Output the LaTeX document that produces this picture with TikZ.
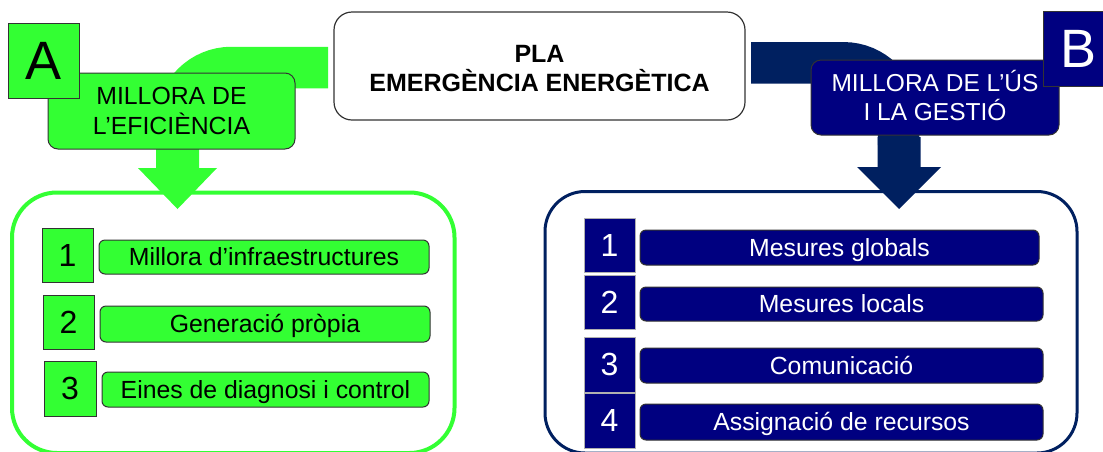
\documentclass[tikz,border=0pt]{standalone}
\usepackage{fontspec}
\setmainfont{Liberation Sans}
\definecolor{gA}{HTML}{33FF33}
\definecolor{navyL}{HTML}{000080}
\definecolor{navyD}{HTML}{002060}
\definecolor{edgeD}{HTML}{333333}
\definecolor{edgeL}{HTML}{B0B0B0}
\begin{document}
\begin{tikzpicture}[x=1pt,y=-1pt,
  every node/.style={inner sep=0pt, outer sep=0pt, font=\fontsize{24.8}{30}\selectfont},
  frameA/.style={draw=gA, line width=4pt, rounded corners=45pt},
  frameB/.style={draw=navyD, line width=3pt, rounded corners=40pt},
  bandline/.style={line width=41.5pt, rounded corners=55pt},
  titlebox/.style={draw=edgeD, line width=1.2pt, fill=white, rounded corners=18pt},
  titletext/.style={align=center, font=\bfseries\fontsize{25}{29}\selectfont},
  headA/.style={fill=gA, draw=edgeD, line width=1pt, rounded corners=10pt, align=center},
  headB/.style={fill=navyL, draw=edgeD, line width=1pt, rounded corners=10pt, align=center, text=white, font=\fontsize{24.5}{29}\selectfont},
  letterA/.style={fill=gA, draw=edgeD, line width=1pt, font=\fontsize{54}{60}\selectfont, text height=38.7pt, text depth=0pt},
  letterB/.style={fill=navyL, draw=edgeD, line width=1pt, text=white, font=\fontsize{54}{60}\selectfont, text height=38.7pt, text depth=0pt},
  numA/.style={fill=gA, draw=edgeD, line width=1pt, font=\fontsize{32}{36}\selectfont, text height=22.9pt, text depth=0pt},
  numB/.style={fill=navyL, draw=edgeL, line width=1pt, text=white, font=\fontsize{32}{36}\selectfont, text height=22.9pt, text depth=0pt},
  barA/.style={fill=gA, draw=edgeD, line width=1pt, rounded corners=6pt, text height=17.7pt, text depth=0pt},
  barB/.style={fill=navyL, draw=edgeD, line width=1pt, rounded corners=6pt, text=white, text height=17.7pt, text depth=0pt},
]
\useasboundingbox (0,0) rectangle (1103,451);
\clip (0,0) rectangle (1103,451);
\fill[white] (0,0) rectangle (1103,451);

% outer frames
\node[frameA, minimum width=442.5pt, minimum height=260.5pt] (frA) at (233.25,322.75) {};
\node[frameB, minimum width=532pt, minimum height=261.5pt] (frB) at (811,322.25) {};

% title box
\node[titlebox, minimum width=411pt, minimum height=108pt] (pla) at (539.5,66) {};
\node[titletext] (platext) at (539.5,68.5) {PLA\\EMERGÈNCIA ENERGÈTICA};

% bent bands
\coordinate (bandAstart) at ([shift={(-6,1.5)}]pla.west);
\coordinate (bandAend) at (176.5,145);
\draw[bandline, draw=gA] (bandAstart) -| (bandAend);
\coordinate (bandBstart) at ([shift={(6,-3.2)}]pla.east);
\coordinate (bandBend) at (898.5,145);
\draw[bandline, draw=navyD] (bandBstart) -| (bandBend);

% down arrows
\coordinate (tipA) at (177.5,209);
\fill[gA] (tipA) -- ++(-39.5,-41) -- ++(18,0) -- ++(0,-30) -- ++(43,0) -- ++(0,30) -- ++(18,0) -- cycle;
\coordinate (tipB) at (899,209);
\fill[navyD] (tipB) -- ++(-42,-42) -- ++(20.5,0) -- ++(0,-30) -- ++(43,0) -- ++(0,30) -- ++(20.5,0) -- cycle;

% heading boxes
\node[headA, minimum width=247pt, minimum height=76pt] (labA) at (171.5,111) {MILLORA DE\\L’EFICIÈNCIA};
\node[headB, minimum width=248pt, minimum height=75pt] (labB) at (935,97.5) {MILLORA DE L’\smash{Ú}S\\I LA GESTIÓ};

% letter boxes
\node[letterA, minimum width=71pt, minimum height=75pt] (boxA) at (43.5,60.5) {A};
\node[letterB, minimum width=71pt, minimum height=75pt] (boxB) at (1078.5,48.5) {B};

% left items
\node[numA, minimum width=51pt, minimum height=54pt] (nA1) at (67.5,255) {1};
\node[numA, minimum width=51pt, minimum height=54pt] (nA2) at (68.5,322) {2};
\node[numA, minimum width=52pt, minimum height=55pt] (nA3) at (70,388.5) {3};
\node[barA, minimum width=330pt, minimum height=34pt] (bA1) at (264,257) {Millora d’infraestructures};
\node[barA, minimum width=330pt, minimum height=36pt] (bA2) at (265,324) {Generació pròpia};
\node[barA, minimum width=327pt, minimum height=35pt] (bA3) at (265.5,389.5) {Eines de diagnosi i control};

% right items
\node[numB, minimum width=51pt, minimum height=54pt] (nB1) at (609.5,245) {1};
\node[numB, minimum width=51pt, minimum height=54pt] (nB2) at (609.5,302) {2};
\node[numB, minimum width=51pt, minimum height=55pt] (nB3) at (609.5,364.5) {3};
\node[numB, minimum width=51pt, minimum height=55pt] (nB4) at (609.5,420.5) {4};
\node[barB, minimum width=399pt, minimum height=35pt] (bB1) at (839.5,247.5) {Mesures globals};
\node[barB, minimum width=403pt, minimum height=34pt] (bB2) at (841.5,304) {Mesures locals};
\node[barB, minimum width=403pt, minimum height=35pt] (bB3) at (841.5,365.5) {Comunicació};
\node[barB, minimum width=403pt, minimum height=36pt] (bB4) at (841.5,422) {Assignació de recursos};
\end{tikzpicture}
\end{document}
